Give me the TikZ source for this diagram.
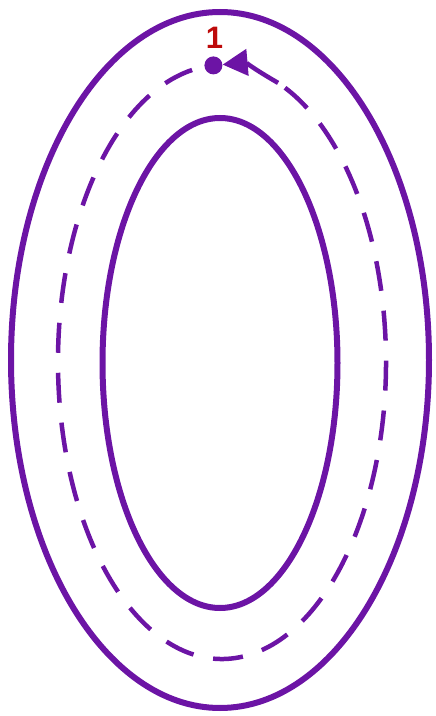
\documentclass[tikz,border=0pt]{standalone}
\usepackage{fontspec}
\newfontfamily\labelfont{Liberation Sans}
\usetikzlibrary{arrows.meta,calc,shapes.geometric}
\definecolor{ringpurple}{RGB}{108,20,165}
\definecolor{markred}{RGB}{190,10,10}

\begin{document}
\begin{tikzpicture}[
  x=1pt,y=1pt,
  >=Latex,
  ring/.style={ellipse,draw=ringpurple,line width=6pt,inner sep=0pt},
  track/.style={draw=ringpurple,line width=4.5pt,dash pattern=on 30pt off 20pt},
  startdot/.style={circle,fill=ringpurple,inner sep=0pt,minimum size=18pt},
  flow/.style={draw=ringpurple,line width=4.5pt,-{Triangle[length=25pt,width=26pt]}},
  marklabel/.style={text=markred,inner sep=0pt,font={\labelfont\bfseries\fontsize{31}{33}\selectfont}}
]
  \useasboundingbox (0,0) rectangle (436,716);
  \node[ring,minimum width=418pt,minimum height=696pt] (outer) at (220,356) {};
  \node[ring,minimum width=235pt,minimum height=490pt] (inner) at (220,353) {};
  \coordinate (mid) at (222,354);

  % start point on the dashed track
  \node[startdot] (start) at ($(mid)+(93:164 and 297)$) {};
  \node[marklabel,anchor=base] (num) at ($(start.north)+(1,8)$) {1};

  \draw[track] ($(mid)+(100.5:164 and 297)$)
    arc[start angle=100.5,end angle=428,x radius=164,y radius=297];
  \coordinate (from) at ($(mid)+(70:164 and 297)$);
  \draw[flow] (from) to[out=150,in=5] (start);
\end{tikzpicture}
\end{document}
